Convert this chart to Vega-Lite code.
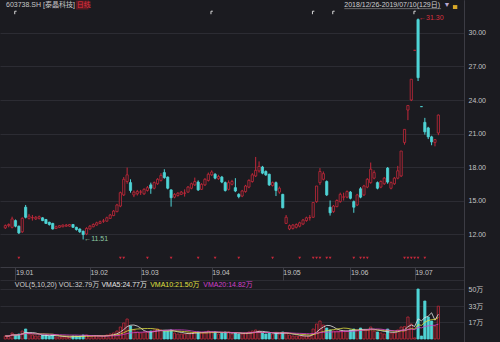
{
"$schema": "https://vega.github.io/schema/vega-lite/v6.json",
"width": 500, "height": 342,
"autosize": {"type": "fit", "contains": "padding"},
"padding": 0,
"background": "#1b1b20",
"config": {
  "view": {"stroke": null},
  "font": "Liberation Sans, Noto Sans CJK SC",
  "locale": {"number": {"decimal": ".", "thousands": ",", "grouping": [3], "currency": ["←", ""]}},
  "axis": {"labelFont": "Liberation Sans, Noto Sans CJK SC", "labelFontSize": 7, "labelColor": "#c4c4c4", "domainColor": "#3c3c44", "gridColor": "#2c2c33", "tickColor": "#3c3c44", "title": null}
},
"datasets": {
  "k": [
{"i":1,"o":12.55,"h":12.85,"l":12.45,"c":12.75,"v":3},
{"i":2,"o":12.75,"h":12.95,"l":12.6,"c":12.85,"v":3},
{"i":3,"o":12.6,"h":13.55,"l":12.5,"c":13.35,"v":6},
{"i":4,"o":13.2,"h":13.3,"l":12.6,"c":12.7,"v":4},
{"i":5,"o":12.7,"h":12.75,"l":12.0,"c":12.1,"v":5},
{"i":6,"o":12.2,"h":13.5,"l":12.1,"c":13.4,"v":8},
{"i":7,"o":14.4,"h":14.6,"l":13.4,"c":13.5,"v":10},
{"i":8,"o":13.4,"h":13.8,"l":13.3,"c":13.6,"v":5},
{"i":9,"o":13.45,"h":13.7,"l":13.2,"c":13.47,"v":4},
{"i":10,"o":13.35,"h":13.6,"l":13.25,"c":13.5,"v":3},
{"i":11,"o":13.4,"h":13.65,"l":13.3,"c":13.55,"v":3},
{"i":12,"o":13.45,"h":13.5,"l":13.15,"c":13.2,"v":4},
{"i":13,"o":13.3,"h":13.35,"l":12.9,"c":12.95,"v":4},
{"i":14,"o":13.05,"h":13.1,"l":12.75,"c":12.85,"v":3},
{"i":15,"o":12.95,"h":13.0,"l":12.4,"c":12.45,"v":4},
{"i":16,"o":12.5,"h":12.75,"l":12.45,"c":12.65,"v":2},
{"i":17,"o":12.6,"h":12.8,"l":12.55,"c":12.75,"v":2},
{"i":18,"o":12.65,"h":12.85,"l":12.6,"c":12.8,"v":2},
{"i":19,"o":12.7,"h":12.9,"l":12.65,"c":12.8,"v":2},
{"i":20,"o":12.7,"h":12.9,"l":12.65,"c":12.85,"v":2},
{"i":21,"o":12.85,"h":12.9,"l":12.55,"c":12.6,"v":3},
{"i":22,"o":12.6,"h":12.65,"l":12.3,"c":12.4,"v":3},
{"i":23,"o":12.45,"h":12.5,"l":12.1,"c":12.2,"v":3},
{"i":24,"o":12.25,"h":12.3,"l":11.51,"c":11.95,"v":4},
{"i":25,"o":12.0,"h":12.6,"l":11.9,"c":12.5,"v":4},
{"i":26,"o":12.45,"h":12.8,"l":12.4,"c":12.7,"v":3},
{"i":27,"o":12.65,"h":12.95,"l":12.6,"c":12.85,"v":3},
{"i":28,"o":12.8,"h":13.1,"l":12.75,"c":13.0,"v":3},
{"i":29,"o":12.95,"h":13.2,"l":12.9,"c":13.1,"v":3},
{"i":30,"o":13.15,"h":13.35,"l":13.0,"c":13.17,"v":3},
{"i":31,"o":13.15,"h":13.55,"l":13.1,"c":13.45,"v":4},
{"i":32,"o":13.4,"h":13.8,"l":13.35,"c":13.7,"v":5},
{"i":33,"o":13.65,"h":14.15,"l":13.6,"c":14.05,"v":6},
{"i":34,"o":14.0,"h":14.7,"l":13.95,"c":14.6,"v":8},
{"i":35,"o":14.5,"h":15.8,"l":14.4,"c":15.7,"v":12},
{"i":36,"o":15.5,"h":17.1,"l":15.4,"c":16.9,"v":16},
{"i":37,"o":16.7,"h":17.95,"l":16.5,"c":17.3,"v":20},
{"i":38,"o":16.6,"h":16.9,"l":15.7,"c":15.9,"v":13},
{"i":39,"o":15.5,"h":15.9,"l":15.3,"c":15.75,"v":9},
{"i":40,"o":15.6,"h":15.95,"l":15.45,"c":15.8,"v":7},
{"i":41,"o":15.75,"h":15.95,"l":15.5,"c":15.77,"v":6},
{"i":42,"o":15.6,"h":16.1,"l":15.5,"c":16.0,"v":7},
{"i":43,"o":15.9,"h":16.3,"l":15.8,"c":16.15,"v":7},
{"i":44,"o":16.4,"h":16.6,"l":15.6,"c":16.1,"v":8},
{"i":45,"o":16.1,"h":16.7,"l":16.0,"c":16.6,"v":9},
{"i":46,"o":16.5,"h":17.0,"l":16.4,"c":16.9,"v":10},
{"i":47,"o":16.8,"h":17.45,"l":16.7,"c":17.25,"v":9},
{"i":48,"o":17.5,"h":17.8,"l":16.95,"c":17.05,"v":8},
{"i":49,"o":17.1,"h":17.15,"l":16.0,"c":16.1,"v":8},
{"i":50,"o":15.95,"h":16.0,"l":14.45,"c":15.25,"v":9},
{"i":51,"o":15.3,"h":15.65,"l":15.2,"c":15.55,"v":6},
{"i":52,"o":15.45,"h":15.75,"l":15.35,"c":15.65,"v":5},
{"i":53,"o":15.55,"h":15.85,"l":15.5,"c":15.75,"v":5},
{"i":54,"o":15.65,"h":16.0,"l":15.35,"c":15.67,"v":5},
{"i":55,"o":15.75,"h":16.3,"l":15.7,"c":16.2,"v":6},
{"i":56,"o":16.1,"h":16.6,"l":16.0,"c":16.5,"v":6},
{"i":57,"o":16.4,"h":17.05,"l":16.3,"c":16.7,"v":7},
{"i":58,"o":16.65,"h":16.8,"l":15.85,"c":15.95,"v":7},
{"i":59,"o":16.0,"h":16.55,"l":15.95,"c":16.45,"v":6},
{"i":60,"o":16.4,"h":17.0,"l":16.3,"c":16.9,"v":7},
{"i":61,"o":16.8,"h":17.5,"l":16.7,"c":17.35,"v":8},
{"i":62,"o":17.3,"h":17.7,"l":17.2,"c":17.55,"v":7},
{"i":63,"o":17.35,"h":17.45,"l":16.9,"c":17.0,"v":7},
{"i":64,"o":16.95,"h":17.3,"l":16.85,"c":17.15,"v":5},
{"i":65,"o":17.1,"h":17.2,"l":16.55,"c":16.65,"v":6},
{"i":66,"o":16.6,"h":16.7,"l":15.8,"c":15.9,"v":7},
{"i":67,"o":16.0,"h":16.8,"l":15.9,"c":16.6,"v":7},
{"i":68,"o":16.45,"h":16.85,"l":16.35,"c":16.7,"v":5},
{"i":69,"o":16.15,"h":17.0,"l":15.75,"c":15.85,"v":6},
{"i":70,"o":15.55,"h":15.65,"l":15.2,"c":15.35,"v":5},
{"i":71,"o":15.4,"h":15.95,"l":15.3,"c":15.85,"v":5},
{"i":72,"o":15.8,"h":16.4,"l":15.7,"c":16.3,"v":6},
{"i":73,"o":16.2,"h":16.9,"l":16.1,"c":16.8,"v":7},
{"i":74,"o":16.7,"h":17.45,"l":16.6,"c":17.3,"v":8},
{"i":75,"o":17.2,"h":18.9,"l":17.1,"c":17.7,"v":9},
{"i":76,"o":17.65,"h":18.5,"l":17.5,"c":18.05,"v":8},
{"i":77,"o":18.0,"h":18.1,"l":17.35,"c":17.45,"v":6},
{"i":78,"o":17.6,"h":17.7,"l":17.2,"c":17.3,"v":5},
{"i":79,"o":17.35,"h":17.4,"l":16.3,"c":16.4,"v":6},
{"i":80,"o":16.35,"h":16.7,"l":16.25,"c":16.6,"v":5},
{"i":81,"o":16.6,"h":16.7,"l":15.4,"c":15.9,"v":6},
{"i":82,"o":15.75,"h":16.25,"l":15.6,"c":16.1,"v":5},
{"i":83,"o":15.55,"h":15.6,"l":14.3,"c":14.35,"v":7},
{"i":84,"o":12.95,"h":13.7,"l":12.9,"c":13.5,"v":6},
{"i":85,"o":12.45,"h":12.85,"l":12.35,"c":12.75,"v":4},
{"i":86,"o":12.5,"h":12.9,"l":12.4,"c":12.8,"v":3},
{"i":87,"o":12.6,"h":12.95,"l":12.5,"c":12.85,"v":3},
{"i":88,"o":12.7,"h":13.1,"l":12.6,"c":13.0,"v":3},
{"i":89,"o":12.9,"h":13.35,"l":12.8,"c":13.25,"v":3},
{"i":90,"o":13.2,"h":13.55,"l":13.1,"c":13.45,"v":3},
{"i":91,"o":13.45,"h":13.7,"l":13.2,"c":13.47,"v":3},
{"i":92,"o":13.5,"h":14.82,"l":13.45,"c":14.82,"v":10},
{"i":93,"o":14.9,"h":16.3,"l":14.8,"c":16.3,"v":15},
{"i":94,"o":16.6,"h":17.9,"l":16.4,"c":17.6,"v":18},
{"i":95,"o":16.9,"h":17.6,"l":16.8,"c":17.4,"v":14},
{"i":96,"o":16.7,"h":16.8,"l":15.4,"c":15.5,"v":11},
{"i":97,"o":14.4,"h":15.0,"l":13.65,"c":13.9,"v":9},
{"i":98,"o":14.0,"h":14.6,"l":13.9,"c":14.5,"v":8},
{"i":99,"o":14.45,"h":15.1,"l":14.4,"c":15.0,"v":8},
{"i":100,"o":14.9,"h":15.7,"l":14.8,"c":15.55,"v":8},
{"i":101,"o":15.3,"h":15.7,"l":15.0,"c":15.32,"v":8},
{"i":102,"o":15.3,"h":15.9,"l":15.2,"c":15.8,"v":8},
{"i":103,"o":15.75,"h":15.85,"l":15.1,"c":15.2,"v":9},
{"i":104,"o":14.9,"h":15.0,"l":13.9,"c":14.4,"v":10},
{"i":105,"o":14.6,"h":15.6,"l":14.5,"c":15.5,"v":9},
{"i":106,"o":16.05,"h":16.2,"l":15.2,"c":15.3,"v":11},
{"i":107,"o":15.5,"h":16.4,"l":15.4,"c":16.3,"v":9},
{"i":108,"o":16.2,"h":17.0,"l":16.1,"c":16.9,"v":9},
{"i":109,"o":16.6,"h":18.4,"l":16.5,"c":17.8,"v":12},
{"i":110,"o":17.0,"h":17.7,"l":16.9,"c":17.5,"v":8},
{"i":111,"o":16.6,"h":16.7,"l":16.0,"c":16.1,"v":7},
{"i":112,"o":16.2,"h":16.8,"l":16.1,"c":16.7,"v":6},
{"i":113,"o":16.5,"h":17.1,"l":16.4,"c":17.0,"v":5},
{"i":114,"o":17.9,"h":18.0,"l":16.5,"c":16.65,"v":10},
{"i":115,"o":16.1,"h":16.7,"l":16.0,"c":16.6,"v":6},
{"i":116,"o":16.5,"h":17.1,"l":16.4,"c":17.0,"v":6},
{"i":117,"o":17.0,"h":18.1,"l":16.9,"c":17.66,"v":9},
{"i":118,"o":17.2,"h":19.43,"l":17.1,"c":19.43,"v":12},
{"i":119,"o":20.2,"h":21.37,"l":20.0,"c":21.37,"v":12.4},
{"i":120,"o":23.1,"h":23.51,"l":22.2,"c":23.51,"v":22},
{"i":121,"o":24.0,"h":25.86,"l":23.9,"c":25.86,"v":15},
{"i":122,"o":28.45,"h":28.45,"l":28.45,"c":28.45,"v":1.15},
{"i":123,"o":31.2,"h":31.3,"l":25.7,"c":26.0,"v":50},
{"i":124,"o":23.41,"h":23.41,"l":23.4,"c":23.4,"v":3},
{"i":125,"o":22.0,"h":22.4,"l":20.9,"c":21.15,"v":38},
{"i":126,"o":21.5,"h":21.6,"l":20.5,"c":20.7,"v":22},
{"i":127,"o":20.7,"h":20.8,"l":19.95,"c":20.25,"v":18},
{"i":128,"o":20.2,"h":20.5,"l":19.85,"c":20.45,"v":13.06},
{"i":129,"o":21.05,"h":22.7,"l":20.85,"c":22.65,"v":32.79}
  ],
  "flags": [{"i":5},{"i":35},{"i":36},{"i":43},{"i":50},{"i":58},{"i":63},{"i":70},{"i":80},{"i":88},{"i":92},{"i":93},{"i":94},{"i":96},{"i":97},{"i":104},{"i":106},{"i":107},{"i":108},{"i":119},{"i":120},{"i":121},{"i":122},{"i":123},{"i":125}],
  "news": [{"i":4},{"i":62},{"i":92},{"i":98},{"i":122}]
},
"resolve": {"scale": {"y": "independent"}},
"layer": [
  {"data": {"name": "k"},
   "mark": {"type": "rule", "strokeWidth": 1},
   "encoding": {
     "x": {"field": "i", "type": "quantitative",
       "scale": {"domain": [0.9, 135.1], "nice": false, "zero": false},
       "axis": {"orient": "bottom", "offset": -75, "values": [4, 26, 41, 62, 83, 103, 122],
         "labelExpr": "['19.01','19.02','19.03','19.04','19.05','19.06','19.07'][indexof([4,26,41,62,83,103,122], datum.value)]",
         "tickSize": 13, "labelAlign": "left", "labelPadding": -12, "labelDx": 2, "labelBaseline": "top", "grid": false, "labelFlush": false, "labelOverlap": false, "minExtent": 0, "maxExtent": 13}},
     "y": {"field": "l", "type": "quantitative", "scale": {"domain": [2.329, 32.955], "nice": false, "zero": false},
       "axis": {"orient": "right", "values": [12, 15, 18, 21, 24, 27, 30], "format": ".2f", "grid": true, "ticks": false, "labelPadding": 4, "minExtent": 36, "maxExtent": 36}},
     "y2": {"field": "h"},
     "color": {"condition": {"test": "datum.c >= datum.o", "value": "#c4283a"}, "value": "#4fd4d6"}}},
  {"data": {"name": "k"},
   "mark": {"type": "bar", "size": 2.2, "strokeWidth": 0.8},
   "encoding": {
     "x": {"field": "i", "type": "quantitative", "scale": {"domain": [0.9, 135.1], "nice": false, "zero": false}},
     "y": {"field": "o", "type": "quantitative", "scale": {"domain": [2.329, 32.955], "nice": false, "zero": false}, "axis": null},
     "y2": {"field": "c"},
     "fill": {"condition": {"test": "datum.c >= datum.o", "value": "#1b1b20"}, "value": "#4fd4d6"},
     "stroke": {"condition": {"test": "datum.c >= datum.o", "value": "#c4283a"}, "value": "#4fd4d6"}}},
  {"data": {"name": "k"},
   "transform": [{"joinaggregate": [{"op": "min", "field": "l", "as": "minl"}]}, {"filter": "datum.l == datum.minl"}],
   "mark": {"type": "text", "align": "left", "baseline": "middle", "dx": 1, "fontSize": 7, "color": "#8cc9a4"},
   "encoding": {
     "x": {"field": "i", "type": "quantitative", "scale": {"domain": [0.9, 135.1], "nice": false, "zero": false}},
     "y": {"field": "l", "type": "quantitative", "scale": {"domain": [2.329, 32.955], "nice": false, "zero": false}, "axis": null},
     "text": {"field": "l", "type": "quantitative", "format": "$.2f"}}},
  {"data": {"name": "k"},
   "transform": [{"joinaggregate": [{"op": "max", "field": "h", "as": "maxh"}]}, {"filter": "datum.h == datum.maxh"}],
   "mark": {"type": "text", "align": "left", "baseline": "middle", "dx": 1, "fontSize": 7, "color": "#d8303e"},
   "encoding": {
     "x": {"field": "i", "type": "quantitative", "scale": {"domain": [0.9, 135.1], "nice": false, "zero": false}},
     "y": {"field": "h", "type": "quantitative", "scale": {"domain": [2.329, 32.955], "nice": false, "zero": false}, "axis": null},
     "text": {"field": "h", "type": "quantitative", "format": "$.2f"}}},
  {"data": {"name": "flags"},
   "mark": {"type": "point", "shape": "triangle-down", "filled": true, "size": 8, "color": "#c4283a", "opacity": 1},
   "encoding": {
     "x": {"field": "i", "type": "quantitative", "scale": {"domain": [0.9, 135.1], "nice": false, "zero": false}},
     "y": {"datum": 9.85, "type": "quantitative", "scale": {"domain": [2.329, 32.955], "nice": false, "zero": false}, "axis": null}}},
  {"data": {"name": "news"},
   "mark": {"type": "point", "shape": "M -0.4 1 V -0.6 H 0.6", "filled": false, "size": 14, "strokeWidth": 1, "color": "#d8d8d8", "opacity": 1},
   "encoding": {
     "x": {"field": "i", "type": "quantitative", "scale": {"domain": [0.9, 135.1], "nice": false, "zero": false}},
     "y": {"datum": 31.85, "type": "quantitative", "scale": {"domain": [2.329, 32.955], "nice": false, "zero": false}, "axis": null}}},
  {"data": {"values": [{"t": "603738.SH [泰晶科技]"}]},
   "mark": {"type": "text", "align": "left", "baseline": "middle", "fontSize": 7, "color": "#c8c8c8"},
   "encoding": {"text": {"field": "t", "type": "nominal"}, "x": {"datum": 1.2, "type": "quantitative"}, "y": {"datum": 32.5, "type": "quantitative", "scale": {"domain": [2.329, 32.955], "nice": false, "zero": false}, "axis": null}}},
  {"data": {"values": [{"t": "日线"}]},
   "mark": {"type": "rect", "color": "#5a1a22"},
   "encoding": {"x": {"datum": 21.9, "type": "quantitative"}, "x2": {"datum": 25.6}, "y": {"datum": 32.1, "type": "quantitative", "scale": {"domain": [2.329, 32.955], "nice": false, "zero": false}, "axis": null}, "y2": {"datum": 32.9}}},
  {"data": {"values": [{"t": "日线"}]},
   "mark": {"type": "text", "align": "left", "baseline": "middle", "fontSize": 7, "color": "#e0303e"},
   "encoding": {"text": {"field": "t", "type": "nominal"}, "x": {"datum": 22.1, "type": "quantitative"}, "y": {"datum": 32.5, "type": "quantitative", "scale": {"domain": [2.329, 32.955], "nice": false, "zero": false}, "axis": null}}},
  {"data": {"values": [{"t": "2018/12/26-2019/07/10(129日)"}]},
   "mark": {"type": "text", "align": "left", "baseline": "middle", "fontSize": 7, "color": "#d0d0d0"},
   "encoding": {"text": {"field": "t", "type": "nominal"}, "x": {"datum": 101.2, "type": "quantitative"}, "y": {"datum": 32.5, "type": "quantitative", "scale": {"domain": [2.329, 32.955], "nice": false, "zero": false}, "axis": null}}},
  {"data": {"values": [{"t": "underline"}]},
   "mark": {"type": "rule", "color": "#a0a0a0", "strokeWidth": 0.6},
   "encoding": {"x": {"datum": 101.2, "type": "quantitative"}, "x2": {"datum": 129.8}, "y": {"datum": 32.18, "type": "quantitative", "scale": {"domain": [2.329, 32.955], "nice": false, "zero": false}, "axis": null}}},
  {"data": {"values": [{"t": "▼"}]},
   "mark": {"type": "text", "align": "left", "baseline": "middle", "fontSize": 7, "color": "#b8a8d0"},
   "encoding": {"text": {"field": "t", "type": "nominal"}, "x": {"datum": 130.5, "type": "quantitative"}, "y": {"datum": 32.5, "type": "quantitative", "scale": {"domain": [2.329, 32.955], "nice": false, "zero": false}, "axis": null}}},
  {"data": {"values": [{"t": "lock"}]},
   "mark": {"type": "rect", "color": "#d8a828"},
   "encoding": {"x": {"datum": 133.3, "type": "quantitative"}, "x2": {"datum": 134.6}, "y": {"datum": 32.15, "type": "quantitative", "scale": {"domain": [2.329, 32.955], "nice": false, "zero": false}, "axis": null}, "y2": {"datum": 32.5}}},
  {"data": {"name": "k"},
   "mark": {"type": "bar", "size": 2.2, "strokeWidth": 0.8},
   "encoding": {
     "x": {"field": "i", "type": "quantitative", "scale": {"domain": [0.9, 135.1], "nice": false, "zero": false}},
     "y": {"field": "v", "type": "quantitative", "scale": {"domain": [-3, 339], "nice": false, "zero": false},
       "axis": {"orient": "right", "values": [17, 33, 50, 59], "labelExpr": "datum.value == 59 ? '' : datum.value + '万'", "grid": true, "ticks": false, "labelPadding": 4, "minExtent": 36, "maxExtent": 36}},
     "y2": {"datum": 0},
     "fill": {"condition": {"test": "datum.c >= datum.o", "value": "#1b1b20"}, "value": "#4fd4d6"},
     "stroke": {"condition": {"test": "datum.c >= datum.o", "value": "#c4283a"}, "value": "#4fd4d6"}}},
  {"data": {"name": "k"},
   "transform": [{"window": [{"op": "mean", "field": "v", "as": "m5"}], "frame": [-4, 0], "sort": [{"field": "i"}]}],
   "mark": {"type": "line", "strokeWidth": 0.8, "color": "#e6e6e6"},
   "encoding": {
     "x": {"field": "i", "type": "quantitative", "scale": {"domain": [0.9, 135.1], "nice": false, "zero": false}},
     "y": {"field": "m5", "type": "quantitative", "scale": {"domain": [-3, 339], "nice": false, "zero": false}, "axis": null}}},
  {"data": {"name": "k"},
   "transform": [{"window": [{"op": "mean", "field": "v", "as": "m10"}], "frame": [-9, 0], "sort": [{"field": "i"}]}],
   "mark": {"type": "line", "strokeWidth": 0.8, "color": "#e0e040"},
   "encoding": {
     "x": {"field": "i", "type": "quantitative", "scale": {"domain": [0.9, 135.1], "nice": false, "zero": false}},
     "y": {"field": "m10", "type": "quantitative", "scale": {"domain": [-3, 339], "nice": false, "zero": false}, "axis": null}}},
  {"data": {"name": "k"},
   "transform": [{"window": [{"op": "mean", "field": "v", "as": "m20"}], "frame": [-19, 0], "sort": [{"field": "i"}]}],
   "mark": {"type": "line", "strokeWidth": 0.8, "color": "#d040c8"},
   "encoding": {
     "x": {"field": "i", "type": "quantitative", "scale": {"domain": [0.9, 135.1], "nice": false, "zero": false}},
     "y": {"field": "m20", "type": "quantitative", "scale": {"domain": [-3, 339], "nice": false, "zero": false}, "axis": null}}},
  {"data": {"values": [{"t": "VOL(5,10,20) VOL:32.79万"}]},
   "mark": {"type": "text", "align": "left", "baseline": "middle", "fontSize": 7, "color": "#d0d0d0"},
   "encoding": {"text": {"field": "t", "type": "nominal"}, "x": {"datum": 3.8, "type": "quantitative"}, "y": {"datum": 54, "type": "quantitative", "scale": {"domain": [-3, 339], "nice": false, "zero": false}, "axis": null}}},
  {"data": {"values": [{"t": "VMA5:24.77万"}]},
   "mark": {"type": "text", "align": "left", "baseline": "middle", "fontSize": 7, "color": "#e6e6e6"},
   "encoding": {"text": {"field": "t", "type": "nominal"}, "x": {"datum": 29.4, "type": "quantitative"}, "y": {"datum": 54, "type": "quantitative", "scale": {"domain": [-3, 339], "nice": false, "zero": false}, "axis": null}}},
  {"data": {"values": [{"t": "VMA10:21.50万"}]},
   "mark": {"type": "text", "align": "left", "baseline": "middle", "fontSize": 7, "color": "#e0e040"},
   "encoding": {"text": {"field": "t", "type": "nominal"}, "x": {"datum": 43.8, "type": "quantitative"}, "y": {"datum": 54, "type": "quantitative", "scale": {"domain": [-3, 339], "nice": false, "zero": false}, "axis": null}}},
  {"data": {"values": [{"t": "VMA20:14.82万"}]},
   "mark": {"type": "text", "align": "left", "baseline": "middle", "fontSize": 7, "color": "#d040c8"},
   "encoding": {"text": {"field": "t", "type": "nominal"}, "x": {"datum": 59.5, "type": "quantitative"}, "y": {"datum": 54, "type": "quantitative", "scale": {"domain": [-3, 339], "nice": false, "zero": false}, "axis": null}}}
]
}
